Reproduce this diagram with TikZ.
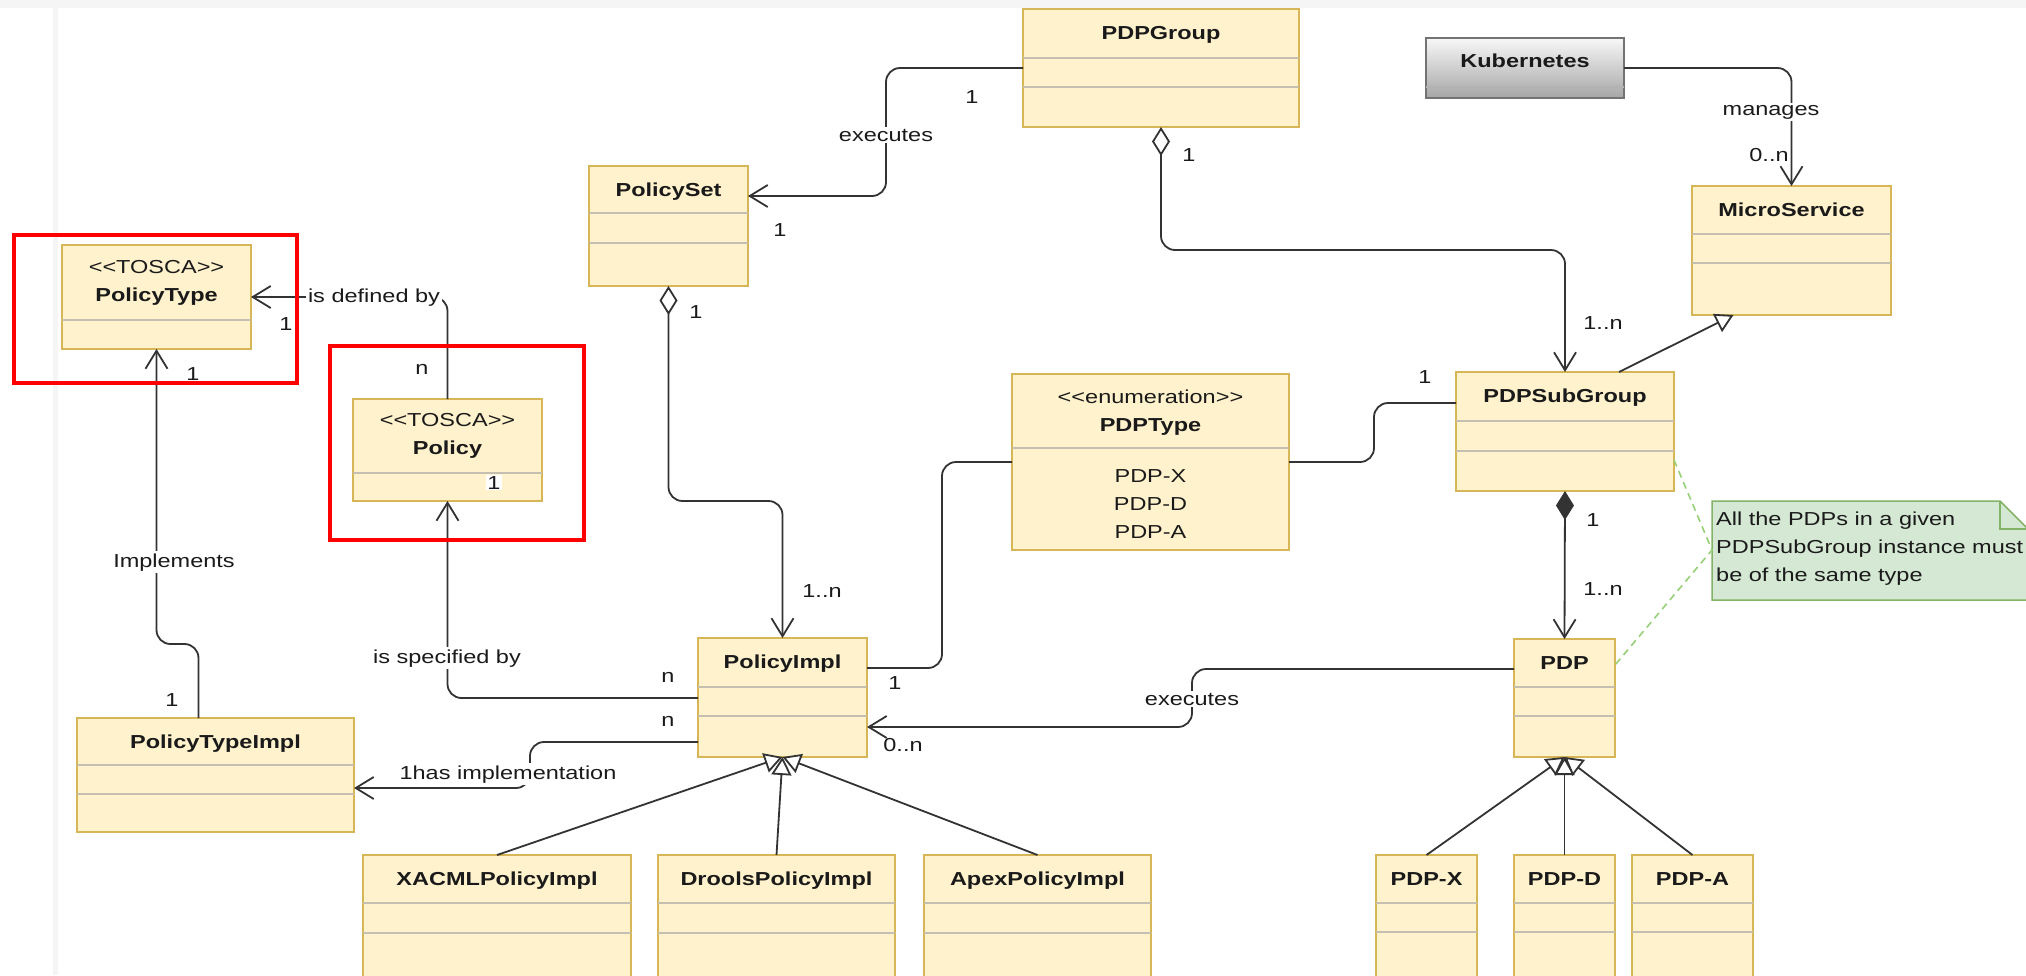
\documentclass[tikz,border=0pt]{standalone}
\usepackage{fontspec}
\setmainfont{Liberation Sans}[FakeStretch=1.25]
\usetikzlibrary{arrows.meta,calc}
\definecolor{clsfill}{HTML}{FFF2CC}
\definecolor{clsdraw}{HTML}{D6B656}
\definecolor{sepc}{HTML}{C4BFB0}
\definecolor{linec}{HTML}{333333}
\definecolor{notefill}{HTML}{D5E8D4}
\definecolor{notedraw}{HTML}{82B366}
\definecolor{dashc}{HTML}{97D077}
\definecolor{txtc}{HTML}{1A1A1A}
\newcommand\clsbox[5]{\node[cls, anchor=north west, minimum width={(#4-#2)*1pt}, minimum height={(#5-#3)*1pt}] (#1) at (#2,#3) {};}
\newcommand\sepat[2]{\draw[sepl] ([yshift=-#2pt]#1.north west) -- ([yshift=-#2pt]#1.north east);}
\newcommand\ttlat[3]{\node[ttl] (#1-t) at ([yshift=-30pt]#1.north) {#2};}
\begin{document}
\begin{tikzpicture}[x=1pt,y=-1pt,
  every node/.style={font=\fontsize{18.8}{28}\selectfont, text=txtc},
  cls/.style={draw=clsdraw, fill=clsfill, line width=1.6pt, inner sep=0pt, outer sep=0pt},
  sepl/.style={draw=sepc, line width=1.6pt},
  ttl/.style={font=\fontsize{18.8}{28}\selectfont\bfseries, inner sep=0pt, anchor=base},
  mult/.style={anchor=base, inner sep=0pt},
  wl/.style={anchor=base, fill=white, inner sep=2pt},
  conn/.style={draw=linec, line width=1.8pt, rounded corners=14pt},
  nav/.style={conn, -{Straight Barb[length=18pt,width=22pt]}},
  agg/.style={conn, {Diamond[fill=white,length=29pt,width=18pt]}-{Straight Barb[length=18pt,width=22pt]}},
  comp/.style={conn, {Diamond[fill=linec,length=29pt,width=18pt]}-{Straight Barb[length=18pt,width=22pt]}},
  gen/.style={conn, -{Triangle[fill=white,length=18pt,width=20pt]}},
  dashl/.style={draw=dashc, line width=1.6pt, dash pattern=on 7pt off 5pt},
  redbox/.style={draw=red, line width=3.5pt}
]
\useasboundingbox (0,0) rectangle (2026,975);
\clip (0,0) rectangle (2026,975);
\fill[white] (0,0) rectangle (2026,975);
\fill[black!4] (0,0) rectangle (2026,8);
\fill[black!4] (53,8) rectangle (58,975);

% ---------- classes ----------
\clsbox{pdpgroup}{1023}{9}{1299}{127}
\sepat{pdpgroup}{49}\sepat{pdpgroup}{78}
\ttlat{pdpgroup}{PDPGroup}{}

\clsbox{policyset}{589}{166}{748}{286}
\sepat{policyset}{47}\sepat{policyset}{77}
\ttlat{policyset}{PolicySet}{}

\clsbox{micro}{1692}{186}{1891}{315}
\sepat{micro}{48}\sepat{micro}{77}
\ttlat{micro}{MicroService}{}

\clsbox{pdpsub}{1456}{372}{1674}{491}
\sepat{pdpsub}{49}\sepat{pdpsub}{79}
\ttlat{pdpsub}{PDPSubGroup}{}

\clsbox{policyimpl}{698}{638}{867}{757}
\sepat{policyimpl}{49}\sepat{policyimpl}{78}
\ttlat{policyimpl}{PolicyImpl}{}

\clsbox{pdp}{1514}{639}{1615}{757}
\sepat{pdp}{48}\sepat{pdp}{77}
\ttlat{pdp}{PDP}{}

\clsbox{ptimpl}{77}{718}{354}{832}
\sepat{ptimpl}{47}\sepat{ptimpl}{76}
\ttlat{ptimpl}{PolicyTypeImpl}{}

\clsbox{xacml}{363}{855}{631}{995}
\sepat{xacml}{48}\sepat{xacml}{78}
\ttlat{xacml}{XACMLPolicyImpl}{}

\clsbox{drools}{658}{855}{895}{995}
\sepat{drools}{48}\sepat{drools}{78}
\ttlat{drools}{DroolsPolicyImpl}{}

\clsbox{apex}{924}{855}{1151}{995}
\sepat{apex}{48}\sepat{apex}{78}
\ttlat{apex}{ApexPolicyImpl}{}

\clsbox{pdpx}{1376}{855}{1477}{995}
\sepat{pdpx}{48}\sepat{pdpx}{77}
\ttlat{pdpx}{PDP-X}{}

\clsbox{pdpd}{1514}{855}{1615}{995}
\sepat{pdpd}{48}\sepat{pdpd}{77}
\ttlat{pdpd}{PDP-D}{}

\clsbox{pdpa}{1632}{855}{1753}{995}
\sepat{pdpa}{48}\sepat{pdpa}{77}
\ttlat{pdpa}{PDP-A}{}

\clsbox{ptype}{62}{245}{251}{349}
\sepat{ptype}{75}
\node[anchor=base, inner sep=0pt, align=center] (ptype-t) at ([yshift=-56pt]ptype.north) {<\kern0pt<TOSCA>\kern0pt>\\\bfseries PolicyType};

\clsbox{policy}{353}{399}{542}{501}
\sepat{policy}{74}
\node[anchor=base, inner sep=0pt, align=center] (policy-t) at ([yshift=-55pt]policy.north) {<\kern0pt<TOSCA>\kern0pt>\\\bfseries Policy};

\clsbox{pdptype}{1012}{374}{1289}{550}
\sepat{pdptype}{74}
\node[anchor=base, inner sep=0pt, align=center] (pdptype-t) at ([yshift=-57pt]pdptype.north) {<\kern0pt<enumeration>\kern0pt>\\\bfseries PDPType};
\node[anchor=base, inner sep=0pt, align=center] (pdptype-v) at ([yshift=-164pt]pdptype.north) {PDP-X\\PDP-D\\PDP-A};

\node[anchor=north west, minimum width=198pt, minimum height=60pt, inner sep=0pt, outer sep=0pt,
  draw=black!55, line width=1.5pt, top color=black!3, bottom color=black!35] (kube) at (1426,38) {};
\draw[draw=black!30, line width=1.5pt] ([yshift=-49pt]kube.north west) -- ([yshift=-49pt]kube.north east);
\node[ttl] (kube-t) at ([yshift=-29pt]kube.north) {Kubernetes};

% ---------- note ----------
\filldraw[fill=notefill, draw=notedraw, line width=1.5pt]
  (1712,501) -- (2000,501) -- (2028,529) -- (2028,600) -- (1712,600) -- cycle;
\draw[notedraw, line width=1.5pt] (2000,501) -- (2000,529) -- (2028,529);
\node[anchor=base west, align=left, inner sep=0pt] (note) at (1716,581)
  {All the PDPs in a given\\PDPSubGroup instance must\\be of the same type};
\coordinate (notew) at (1712,550);
\draw[dashl] ([yshift=31pt]pdpsub.south east) -- (notew) -- ([yshift=-26pt]pdp.north east);

% ---------- connectors ----------
\draw[nav] (pdpgroup.west) -- ++(-137,0) |- ([yshift=-30pt]policyset.north east);
\draw[agg] (pdpgroup.south) -- ++(0,123) -| (pdpsub.north);
\draw[nav] (kube.east) -| (micro.north);
\draw[gen] ([xshift=54pt]pdpsub.north) -- ([xshift=-58pt]micro.south);
\draw[conn] ([yshift=-31pt]pdpsub.north west) -- ++(-82,0) |- (pdptype.east);
\draw[conn] (pdptype.west) -- ++(-70,0) |- ([yshift=-30pt]policyimpl.north east);
\draw[agg] (policyset.south) -- ++(0,215) -| (policyimpl.north);
\draw[nav] ([yshift=-30pt]pdp.north west) -- ++(-322,0) |- ([yshift=-89pt]policyimpl.north east);
\draw[comp] (pdpsub.south) -- (pdp.north);
\draw[nav] (policy.north) |- (ptype.east);
\draw[nav] ([yshift=-60pt]policyimpl.north west) -| (policy.south);
\draw[nav] ([yshift=-104pt]policyimpl.north west) -- ++(-168,0) |- ([yshift=-70pt]ptimpl.north east);
\draw[nav] ([xshift=-17pt]ptimpl.north) -- ++(0,-74) -| (ptype.south);
\draw[gen] (xacml.north) -- (policyimpl.south);
\draw[gen] (drools.north) -- (policyimpl.south);
\draw[gen] (apex.north) -- (policyimpl.south);
\draw[gen] (pdpx.north) -- (pdp.south);
\draw[gen] (pdpd.north) -- (pdp.south);
\draw[gen] (pdpa.north) -- (pdp.south);

% ---------- labels ----------
\node[wl] (l-exec1) at (886,141) {executes};
\node[mult] (m1) at (972,103) {1};
\node[mult] (m2) at (780,236) {1};
\node[mult] (m3) at (1189,161) {1};
\node[wl] (l-man) at (1771,115) {manages};
\node[mult] (m4) at (1769,161) {0..n};
\node[mult] (m5) at (1603,329) {1..n};
\node[mult] (m6) at (1425,383) {1};
\node[mult] (m7) at (895,689) {1};
\node[mult] (m8) at (822,597) {1..n};
\node[mult] (m9) at (696,318) {1};
\node[mult] (m10) at (668,682) {n};
\node[mult] (m11) at (668,726) {n};
\node[mult] (m12) at (903,751) {0..n};
\node[wl] (l-exec2) at (1192,705) {executes};
\node[mult] (m13) at (1593,526) {1};
\node[mult] (m14) at (1603,595) {1..n};
\node[wl] (l-def) at (374,302) {is defined by};
\node[mult] (m15) at (286,330) {1};
\node[mult] (m16) at (422,374) {n};
\node[wl, inner sep=1pt] (m17) at (494,489) {1};
\node[mult] (m18) at (193,380) {1};
\node[wl] (l-impl) at (174,567) {Implements};
\node[mult] (m19) at (172,706) {1};
\node[wl] (l-spec) at (447,663) {is specified by};
\node[wl] (l-has) at (508,779) {1has implementation};

% ---------- highlight frames ----------
\draw[redbox] (14,235) rectangle (297,383);
\draw[redbox] (330,346) rectangle (584,540);
\end{tikzpicture}
\end{document}
